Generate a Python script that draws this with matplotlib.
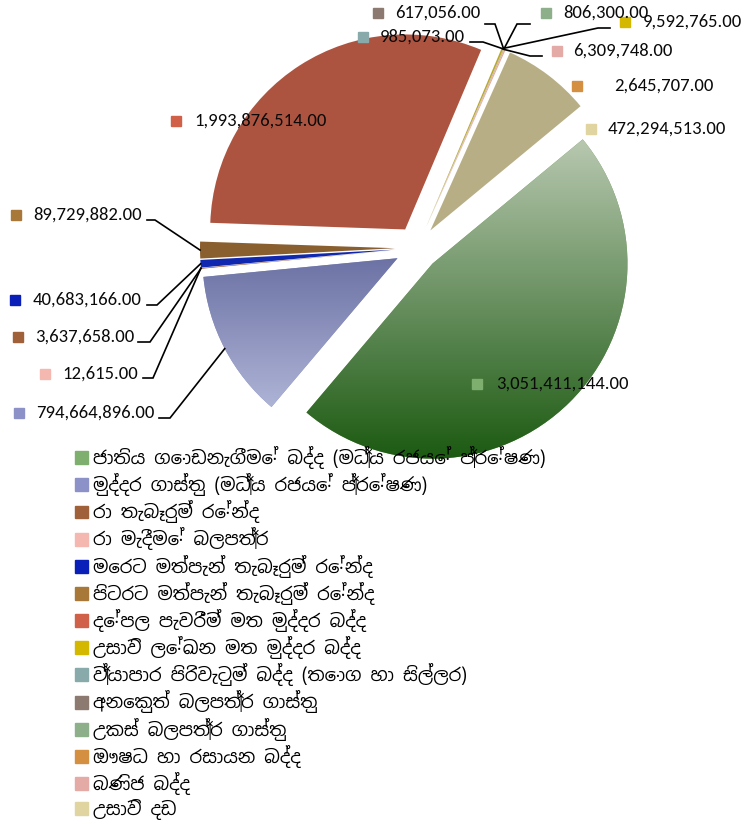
import numpy as np
import matplotlib
matplotlib.use('Agg')
import matplotlib.pyplot as plt
from matplotlib.patches import Rectangle
from matplotlib.colors import LinearSegmentedColormap

# revenue by source (Rs.)
categories = [
    'ජාතිය ගොඩනැගීමේ බද්ද (මධ්‍ය රජයේ ප්‍රේෂණ)',
    'මුද්දර ගාස්තු (මධ්‍ය රජයේ ප්‍රේෂණ)',
    'රා තැබෑරුම් රේන්ද',
    'රා මැදීමේ බලපත්‍ර',
    'මෙරට මත්පැන් තැබෑරුම් රේන්ද',
    'පිටරට මත්පැන් තැබෑරුම් රේන්ද',
    'දේපල පැවරීම් මත මුද්දර බද්ද',
    'උසාවි ලේඛන මත මුද්දර බද්ද',
    'ව්‍යාපාර පිරිවැටුම් බද්ද (තොග හා සිල්ලර)',
    'අනෙකුත් බලපත්‍ර ගාස්තු',
    'උකස් බලපත්‍ර ගාස්තු',
    'ඖෂධ හා රසායන බද්ද',
    'බණිජ බද්ද',
    'උසාවි දඩ',
]
values = [3051411144, 794664896, 3637658, 12615, 40683166, 89729882,
          1993876514, 9592765, 985073, 617056, 806300, 2645707,
          6309748, 472294513]

slice_colors = ['#6E9A58', '#8A90BC', '#8A4A24', '#F0B0A8', '#1028B0', '#8A5F30',
                '#AD5440', '#B8A830', '#88AAAA', '#8C7A70', '#8DB08A', '#D49040',
                '#E0A8A0', '#B8AE86']
key_colors = ['#7FAF6F', '#8C92C8', '#A0603A', '#F4B8B0', '#0A1EB8', '#A87838',
              '#D06048', '#D4B800', '#88AAAA', '#8C7A70', '#8DB08A', '#D49040',
              '#E4AAA6', '#E0D4A0']

W, H = 745, 826

# label layout in pixels from top-left: text x, text y, key square x, leader elbow / end (or None)
label_pos = [
    (496, 384, 472, None),
    (36, 413, 14, ((170, 418), (159, 418))),
    (35, 337, 13, ((150, 342), (138, 342))),
    (62, 374, 40, ((153, 378), (143, 378))),
    (33, 300, 10, ((157, 305), (147, 305))),
    (33, 215, 11, ((155, 220), (147, 220))),
    (194, 121, 171, None),
    (643, 22, 620, ((598, 28), (610, 28))),
    (380, 37, 358, ((483, 42), (470, 42))),
    (395, 13, 373, ((495, 24), (485, 24))),
    (563, 13, 541, ((517, 24), (530, 24))),
    (614, 86, 572, None),
    (573, 51, 552, ((530, 56), (542, 56))),
    (608, 129, 586, None),
]

num_font = ['Carlito', 'DejaVu Sans']
sin_font = ['Noto Sans Sinhala', 'DejaVu Sans']


def shade(ax, wedge, top, bottom):
    # vertical gradient clipped to the wedge
    ext = wedge.get_path().get_extents()
    cmap = LinearSegmentedColormap.from_list('g', [top, bottom])
    grad = np.linspace(0, 1, 256)[:, None]
    im = ax.imshow(grad, extent=(ext.x0, ext.x1, ext.y0, ext.y1), cmap=cmap,
                   origin='upper', aspect='auto', zorder=wedge.get_zorder())
    im.set_clip_path(wedge)


fig = plt.figure(figsize=(W / 100, H / 100), dpi=100)
ax = fig.add_axes([0, 0, 1, 1])

R = 195
cx, cy = 417, H - 248
wedges, _ = ax.pie(values, startangle=39.6, counterclock=False, radius=R,
                   center=(cx, cy), explode=[22] * len(values),
                   colors=slice_colors, wedgeprops=dict(linewidth=0))

shade(ax, wedges[0], '#B8C8B0', '#1C5A12')
shade(ax, wedges[1], '#6C72A4', '#AEB4D6')

for i, (v, w) in enumerate(zip(values, wedges)):
    tx, ty, sx, leader = label_pos[i]
    ax.text(tx, H - ty, f'{v:,.2f}', fontsize=13.4, family=num_font,
            va='center', ha='left', color='#0A0A0A', zorder=5)
    ax.add_patch(Rectangle((sx, H - ty - 5), 10, 10, color=key_colors[i], zorder=5))
    if leader:
        mid = np.deg2rad((w.theta1 + w.theta2) / 2)
        ax0 = w.center[0] + w.r * np.cos(mid)
        ay0 = w.center[1] + w.r * np.sin(mid)
        (ex, ey), (fx, fy) = leader
        ax.plot([ax0, ex, fx], [ay0, H - ey, H - fy], color='black', lw=1.2,
                zorder=4, solid_joinstyle='miter')

handles = [Rectangle((0, 0), 1, 1, color=c) for c in key_colors]
leg = ax.legend(handles, categories, loc='upper left', bbox_to_anchor=(75 / W, 1 - 446 / H),
                bbox_transform=fig.transFigure, frameon=False, prop={'family': sin_font, 'size': 13},
                handlelength=0.72, handleheight=0.72, handletextpad=0.3, labelspacing=0.23,
                borderpad=0, borderaxespad=0)
leg.set_zorder(6)

ax.set_xlim(0, W)
ax.set_ylim(0, H)
ax.axis('off')

fig.savefig('out.png', dpi=100)
